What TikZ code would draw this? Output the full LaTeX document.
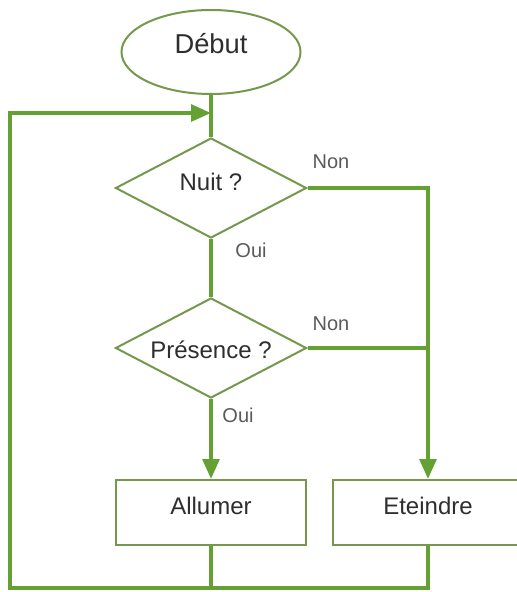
\documentclass[tikz,border=0pt]{standalone}
\usepackage{fontspec}
\setmainfont{Liberation Sans}
\usetikzlibrary{shapes.geometric,arrows.meta}
\definecolor{shapegreen}{HTML}{74984C}
\definecolor{linegreen}{HTML}{64A034}
\definecolor{txtdark}{HTML}{2E2E2E}
\definecolor{txtgray}{HTML}{5A5A5A}
\begin{document}
\begin{tikzpicture}[x=0.75pt,y=-0.75pt,
  shapebase/.style={draw=shapegreen,line width=1.5pt,fill=white,inner sep=0pt,
    text=txtdark,font=\fontsize{18}{20}\selectfont,text depth=0pt},
  startbox/.style={shapebase,ellipse,minimum width=134.25pt,minimum height=63pt,
    font=\fontsize{20.5}{22}\selectfont,text height=3pt},
  testbox/.style={shapebase,diamond,shape aspect=1.91,minimum width=143.25pt,minimum height=75pt},
  actbox/.style={shapebase,rectangle,minimum width=142.5pt,minimum height=48.75pt,text height=2.25pt},
  conn/.style={draw=linegreen,line width=3pt},
  arr/.style={conn,-{Triangle[length=15pt,width=12.5pt]}},
  answer/.style={text=txtgray,font=\fontsize{15}{17}\selectfont,inner sep=0pt}
]
\useasboundingbox[fill=white] (0,0) rectangle (517,592);

\node[startbox] (debut) at (211,52) {Début};
\node[testbox,text height=3pt] (nuit) at (211,188) {Nuit ?};
\node[testbox,text height=15pt] (pres) at (211,348) {Présence ?};
\node[actbox] (allumer) at (211,512.5) {Allumer};
\node[actbox] (eteindre) at (428,512.5) {Eteindre};

\coordinate (bl) at (10,588);
\coordinate (lt) at (10,113);

\node[answer] (non1) at (331,162) {Non};
\node[answer] (oui1) at (251,250) {Oui};
\node[answer] (non2) at (331,324) {Non};
\node[answer] (oui2) at (238,415) {Oui};

\draw[conn] (debut.south) -- (nuit.north);
\draw[conn] (nuit.south) -- (pres.north);
\draw[arr] (pres.south) -- (allumer.north);
\draw[arr] (nuit.east) -| (eteindre.north);
\draw[conn] (pres.east) -- (pres.east -| eteindre.north);
\draw[conn] (allumer.south) -- (allumer.south |- bl);
\draw[arr] (eteindre.south) |- (bl) -- (lt) -- (lt -| nuit.north);
\end{tikzpicture}
\end{document}
